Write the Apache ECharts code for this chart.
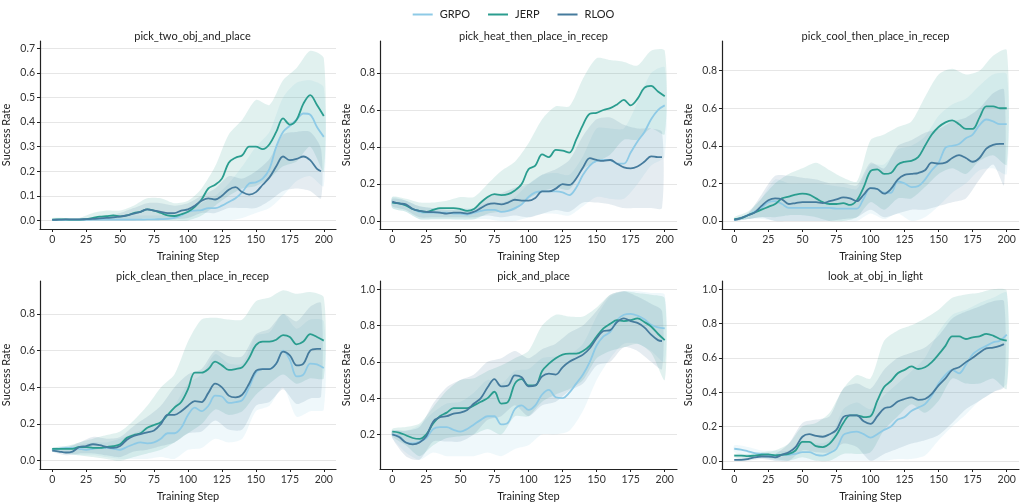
<!DOCTYPE html>
<html>
<head>
<meta charset="utf-8">
<script src="https://cdn.jsdelivr.net/npm/echarts@6/dist/echarts.min.js"></script>
<style>
  html, body { margin: 0; padding: 0; background: #fff; }
  #chart { width: 1027px; height: 504px; }
</style>
</head>
<body>
<div id="chart"></div>
<script>
// x positions of the smoothed curves (RLOO stops at 198)
var steps = [0,5,10,15,20,25,30,35,40,45,50,55,60,65,70,75,80,85,90,95,100,105,110,115,120,125,130,135,140,145,150,155,160,165,170,175,180,185,190,195,200];
var stepsR = [0,5,10,15,20,25,30,35,40,45,50,55,60,65,70,75,80,85,90,95,100,105,110,115,120,125,130,135,140,145,150,155,160,165,170,175,180,185,190,195,198];
var bandSteps = [0,10,20,30,40,50,60,70,80,90,100,110,120,130,140,150,160,170,180,190,200];
var bandStepsR = [0,10,20,30,40,50,60,70,80,90,100,110,120,130,140,150,160,170,180,190,198];
var xTicks = [0,25,50,75,100,125,150,175,200];

var methods = ['GRPO', 'JERP', 'RLOO'];
var titles = ['pick_two_obj_and_place', 'pick_heat_then_place_in_recep', 'pick_cool_then_place_in_recep',
              'pick_clean_then_place_in_recep', 'pick_and_place', 'look_at_obj_in_light'];

// y tick labels per panel
var yTicks1 = [0,0.1,0.2,0.3,0.4,0.5,0.6,0.7];
var yTicks2 = [0,0.2,0.4,0.6,0.8];
var yTicks3 = [0,0.2,0.4,0.6,0.8];
var yTicks4 = [0,0.2,0.4,0.6,0.8];
var yTicks5 = [0.2,0.4,0.6,0.8,1.0];
var yTicks6 = [0,0.2,0.4,0.6,0.8,1.0];

// ---- pick_two_obj_and_place
var p1_grpo = [0.002,0.002,0.002,0.002,0.002,0.002,0.003,0.003,0.003,0.003,0.003,0.003,0.003,0.003,0.004,0.004,0.005,0.006,0.01,0.02,0.035,0.04,0.042,0.05,0.05,0.06,0.075,0.09,0.115,0.15,0.155,0.17,0.21,0.3,0.36,0.385,0.41,0.435,0.43,0.38,0.34];
var p1_jerp = [0.003,0.004,0.004,0.003,0.003,0.005,0.01,0.015,0.017,0.02,0.016,0.02,0.03,0.035,0.045,0.04,0.03,0.02,0.018,0.025,0.035,0.055,0.085,0.13,0.145,0.17,0.235,0.255,0.265,0.3,0.3,0.29,0.31,0.36,0.415,0.39,0.41,0.475,0.51,0.47,0.425];
var p1_rloo = [0.002,0.003,0.004,0.004,0.004,0.005,0.006,0.008,0.01,0.012,0.015,0.02,0.028,0.035,0.045,0.04,0.035,0.03,0.03,0.04,0.045,0.06,0.08,0.09,0.085,0.1,0.125,0.135,0.115,0.105,0.115,0.145,0.175,0.22,0.26,0.245,0.25,0.26,0.245,0.21,0.2];
var p1_grpo_lo = [0,0,0,0,0,0,0,0,0,0,0,0,0,0,0.01,0.03,0.05,0.1,0.16,0.18,0.14];
var p1_grpo_hi = [0.005,0.005,0.005,0.01,0.01,0.015,0.02,0.02,0.02,0.02,0.04,0.07,0.1,0.15,0.22,0.3,0.36,0.5,0.56,0.57,0.54];
var p1_jerp_lo = [0,0,0,0,0,0,0,0,0,0,0,0.02,0.06,0.1,0.13,0.14,0.17,0.22,0.24,0.3,0.2];
var p1_jerp_hi = [0.01,0.01,0.01,0.03,0.04,0.04,0.06,0.09,0.09,0.07,0.08,0.13,0.22,0.35,0.41,0.49,0.47,0.57,0.62,0.69,0.66];
var p1_rloo_lo = [0,0,0,0,0,0,0,0.01,0.005,0.005,0.01,0.03,0.03,0.05,0.05,0.05,0.08,0.12,0.13,0.12,0.09];
var p1_rloo_hi = [0.005,0.005,0.005,0.01,0.02,0.03,0.05,0.07,0.07,0.06,0.07,0.1,0.13,0.18,0.17,0.2,0.25,0.35,0.36,0.36,0.29];

// ---- pick_heat_then_place_in_recep
var p2_grpo = [0.1,0.095,0.085,0.065,0.05,0.045,0.045,0.045,0.045,0.04,0.04,0.035,0.045,0.055,0.06,0.06,0.05,0.055,0.07,0.09,0.13,0.155,0.16,0.16,0.16,0.155,0.14,0.18,0.25,0.3,0.325,0.33,0.33,0.31,0.31,0.37,0.43,0.48,0.55,0.6,0.625];
var p2_jerp = [0.1,0.095,0.085,0.065,0.055,0.05,0.06,0.07,0.07,0.07,0.065,0.055,0.065,0.1,0.13,0.145,0.14,0.145,0.165,0.2,0.28,0.3,0.36,0.345,0.385,0.38,0.37,0.44,0.52,0.58,0.585,0.6,0.61,0.63,0.655,0.625,0.66,0.72,0.73,0.7,0.675];
var p2_rloo = [0.105,0.095,0.09,0.065,0.055,0.05,0.048,0.045,0.04,0.045,0.045,0.04,0.05,0.07,0.09,0.095,0.09,0.1,0.115,0.11,0.11,0.125,0.16,0.16,0.175,0.2,0.195,0.23,0.29,0.34,0.33,0.325,0.33,0.31,0.29,0.285,0.295,0.32,0.35,0.345,0.345];
var p2_grpo_lo = [0.07,0.05,0.01,0.01,0.01,0.005,0.01,0.01,0,0,0.02,0.04,0.04,0.03,0.08,0.13,0.12,0.12,0.2,0.3,0.35];
var p2_grpo_hi = [0.13,0.11,0.08,0.07,0.07,0.07,0.07,0.1,0.1,0.13,0.2,0.25,0.26,0.25,0.35,0.5,0.5,0.5,0.64,0.8,0.83];
var p2_jerp_lo = [0.07,0.05,0.01,0.01,0.01,0.01,0.01,0.04,0.05,0.06,0.12,0.16,0.18,0.17,0.28,0.32,0.36,0.44,0.44,0.5,0.47];
var p2_jerp_hi = [0.13,0.12,0.1,0.1,0.11,0.13,0.13,0.2,0.27,0.32,0.42,0.55,0.62,0.62,0.77,0.88,0.87,0.86,0.84,0.92,0.92];
var p2_rloo_lo = [0.08,0.06,0.02,0.02,0.02,0.02,0.02,0.03,0.02,0.03,0.02,0.04,0.06,0.05,0.1,0.1,0.09,0.07,0.07,0.07,0.07];
var p2_rloo_hi = [0.12,0.11,0.08,0.07,0.06,0.06,0.07,0.13,0.15,0.18,0.2,0.25,0.28,0.33,0.46,0.55,0.56,0.52,0.5,0.5,0.48];

// ---- pick_cool_then_place_in_recep
var p3_grpo = [0.005,0.015,0.03,0.05,0.07,0.1,0.105,0.09,0.07,0.07,0.07,0.07,0.07,0.07,0.07,0.065,0.065,0.065,0.065,0.12,0.175,0.17,0.15,0.15,0.21,0.2,0.18,0.185,0.22,0.27,0.31,0.39,0.4,0.41,0.44,0.46,0.51,0.54,0.53,0.515,0.515];
var p3_jerp = [0.01,0.015,0.03,0.045,0.06,0.075,0.09,0.12,0.13,0.14,0.145,0.14,0.12,0.1,0.09,0.09,0.095,0.085,0.11,0.18,0.265,0.275,0.25,0.255,0.3,0.315,0.32,0.34,0.4,0.46,0.5,0.525,0.535,0.515,0.49,0.49,0.55,0.61,0.61,0.6,0.6];
var p3_rloo = [0.005,0.015,0.03,0.045,0.08,0.11,0.12,0.115,0.09,0.095,0.1,0.1,0.1,0.095,0.105,0.115,0.125,0.12,0.105,0.14,0.175,0.17,0.145,0.17,0.22,0.245,0.25,0.255,0.27,0.31,0.305,0.31,0.335,0.35,0.335,0.315,0.335,0.385,0.405,0.41,0.41];
var p3_grpo_lo = [0,0.01,0.01,0,0,0,0,0,0,0,0.04,0.01,0.04,0,0.02,0.08,0.15,0.2,0.27,0.28,0.25];
var p3_grpo_hi = [0.01,0.04,0.12,0.22,0.2,0.2,0.2,0.19,0.18,0.17,0.3,0.3,0.38,0.4,0.45,0.56,0.62,0.65,0.72,0.78,0.78];
var p3_jerp_lo = [0,0.01,0.02,0.02,0.03,0.03,0.02,0,0,0.02,0.1,0.06,0.12,0.12,0.18,0.25,0.28,0.25,0.32,0.35,0.3];
var p3_jerp_hi = [0.02,0.05,0.12,0.2,0.25,0.28,0.31,0.27,0.23,0.21,0.43,0.46,0.5,0.53,0.66,0.78,0.81,0.78,0.8,0.88,0.91];
var p3_rloo_lo = [0,0.01,0.02,0,0,0,0,0,0.01,0.02,0.06,0.02,0.04,0.06,0.06,0.08,0.1,0.12,0.22,0.3,0.19];
var p3_rloo_hi = [0.01,0.04,0.14,0.24,0.24,0.23,0.22,0.2,0.2,0.19,0.31,0.28,0.4,0.43,0.47,0.49,0.53,0.55,0.6,0.68,0.7];

// ---- pick_clean_then_place_in_recep
var p4_grpo = [0.06,0.065,0.07,0.07,0.065,0.06,0.065,0.07,0.07,0.065,0.06,0.075,0.09,0.1,0.095,0.1,0.12,0.15,0.15,0.18,0.25,0.29,0.27,0.3,0.355,0.35,0.315,0.32,0.33,0.4,0.48,0.5,0.5,0.53,0.6,0.55,0.46,0.47,0.53,0.525,0.505];
var p4_jerp = [0.065,0.065,0.065,0.065,0.075,0.075,0.07,0.07,0.075,0.08,0.09,0.125,0.14,0.15,0.18,0.195,0.21,0.25,0.29,0.32,0.39,0.48,0.48,0.5,0.54,0.52,0.495,0.5,0.51,0.56,0.63,0.65,0.65,0.66,0.685,0.675,0.635,0.65,0.69,0.675,0.655];
var p4_rloo = [0.055,0.05,0.045,0.05,0.075,0.08,0.09,0.085,0.075,0.07,0.08,0.115,0.135,0.145,0.155,0.165,0.2,0.25,0.25,0.27,0.3,0.325,0.32,0.37,0.42,0.4,0.355,0.345,0.36,0.42,0.49,0.5,0.5,0.53,0.595,0.575,0.52,0.53,0.6,0.61,0.61];
var p4_grpo_lo = [0.05,0.04,0.03,0.03,0.02,0.01,0.01,0.01,0.02,0.01,0.06,0.07,0.12,0.1,0.12,0.27,0.3,0.4,0.24,0.27,0.28];
var p4_grpo_hi = [0.07,0.08,0.09,0.1,0.1,0.12,0.15,0.18,0.22,0.3,0.42,0.47,0.58,0.53,0.53,0.68,0.7,0.8,0.72,0.77,0.76];
var p4_jerp_lo = [0.06,0.04,0.03,0.02,0.01,0,0.02,0.04,0.06,0.1,0.15,0.2,0.28,0.25,0.27,0.36,0.42,0.47,0.42,0.45,0.45];
var p4_jerp_hi = [0.07,0.08,0.1,0.12,0.14,0.16,0.22,0.3,0.4,0.47,0.65,0.77,0.78,0.77,0.77,0.87,0.89,0.93,0.91,0.92,0.89];
var p4_rloo_lo = [0.05,0.03,0.04,0.04,0.03,0.02,0.05,0.06,0.08,0.1,0.15,0.16,0.22,0.17,0.17,0.3,0.32,0.39,0.31,0.34,0.35];
var p4_rloo_hi = [0.07,0.07,0.1,0.13,0.12,0.13,0.19,0.24,0.3,0.4,0.47,0.5,0.6,0.57,0.57,0.69,0.72,0.8,0.76,0.84,0.86];

// ---- pick_and_place
var p5_grpo = [0.2,0.19,0.155,0.15,0.16,0.18,0.23,0.24,0.24,0.225,0.215,0.23,0.255,0.28,0.3,0.3,0.255,0.265,0.34,0.36,0.335,0.36,0.42,0.445,0.405,0.4,0.43,0.48,0.53,0.6,0.69,0.74,0.765,0.83,0.86,0.865,0.855,0.835,0.805,0.79,0.785];
var p5_jerp = [0.215,0.21,0.195,0.18,0.175,0.2,0.26,0.3,0.32,0.345,0.345,0.345,0.36,0.38,0.4,0.435,0.37,0.38,0.48,0.505,0.47,0.47,0.55,0.59,0.62,0.64,0.645,0.645,0.66,0.69,0.74,0.785,0.81,0.83,0.825,0.83,0.84,0.82,0.795,0.755,0.72];
var p5_rloo = [0.2,0.185,0.155,0.145,0.155,0.19,0.27,0.295,0.3,0.315,0.32,0.335,0.37,0.4,0.46,0.505,0.465,0.47,0.525,0.515,0.465,0.47,0.52,0.535,0.53,0.57,0.6,0.62,0.64,0.675,0.73,0.77,0.775,0.82,0.84,0.825,0.815,0.79,0.75,0.72,0.715];
var p5_grpo_lo = [0.18,0.1,0.06,0.1,0.08,0.08,0.08,0.1,0.08,0.12,0.14,0.2,0.2,0.22,0.33,0.5,0.62,0.7,0.7,0.66,0.6];
var p5_grpo_hi = [0.22,0.22,0.25,0.32,0.37,0.38,0.43,0.5,0.48,0.55,0.56,0.62,0.63,0.64,0.7,0.85,0.96,0.99,0.99,0.98,0.97];
var p5_jerp_lo = [0.19,0.14,0.08,0.14,0.18,0.19,0.2,0.23,0.2,0.3,0.3,0.38,0.42,0.45,0.5,0.62,0.66,0.68,0.7,0.65,0.5];
var p5_jerp_hi = [0.23,0.24,0.26,0.35,0.44,0.5,0.51,0.55,0.58,0.62,0.66,0.8,0.86,0.85,0.85,0.9,0.97,0.99,0.98,0.97,0.95];
var p5_rloo_lo = [0.18,0.08,0.06,0.16,0.16,0.16,0.2,0.28,0.3,0.36,0.3,0.36,0.38,0.44,0.48,0.58,0.6,0.68,0.66,0.6,0.56];
var p5_rloo_hi = [0.22,0.22,0.24,0.37,0.46,0.5,0.53,0.6,0.62,0.66,0.62,0.67,0.7,0.76,0.8,0.88,0.97,0.99,0.96,0.92,0.88];

// ---- look_at_obj_in_light
var p6_grpo = [0.07,0.065,0.055,0.045,0.04,0.035,0.03,0.035,0.035,0.04,0.05,0.05,0.035,0.03,0.045,0.07,0.15,0.165,0.17,0.155,0.135,0.155,0.18,0.2,0.24,0.255,0.29,0.31,0.33,0.38,0.45,0.5,0.53,0.51,0.56,0.62,0.65,0.67,0.69,0.7,0.735];
var p6_jerp = [0.03,0.03,0.027,0.03,0.035,0.037,0.032,0.035,0.04,0.06,0.11,0.11,0.085,0.08,0.1,0.15,0.22,0.265,0.265,0.255,0.26,0.35,0.43,0.465,0.51,0.53,0.55,0.535,0.545,0.575,0.62,0.67,0.725,0.725,0.71,0.72,0.725,0.74,0.73,0.71,0.7];
var p6_rloo = [0.005,0.005,0.01,0.02,0.025,0.025,0.02,0.035,0.05,0.08,0.14,0.155,0.145,0.14,0.155,0.18,0.255,0.265,0.265,0.23,0.215,0.26,0.305,0.315,0.345,0.36,0.37,0.355,0.36,0.39,0.44,0.48,0.53,0.545,0.575,0.6,0.63,0.655,0.66,0.67,0.68];
var p6_grpo_lo = [0.05,0.03,0.02,0,0,0,0,0,0,0,0,0,0.01,0.01,0.03,0.12,0.2,0.27,0.35,0.4,0.45];
var p6_grpo_hi = [0.09,0.08,0.06,0.06,0.06,0.12,0.1,0.12,0.3,0.34,0.3,0.38,0.45,0.52,0.6,0.75,0.85,0.88,0.92,0.95,0.98];
var p6_jerp_lo = [0.02,0.01,0.02,0.01,0,0.02,0,0,0.04,0.04,0.05,0.18,0.26,0.33,0.28,0.35,0.48,0.45,0.45,0.48,0.42];
var p6_jerp_hi = [0.04,0.04,0.05,0.06,0.1,0.2,0.22,0.28,0.42,0.5,0.48,0.7,0.76,0.79,0.83,0.88,0.95,0.97,0.98,1.0,0.99];
var p6_rloo_lo = [0,0,0.01,0,0,0.06,0.05,0.05,0.1,0.08,0,0.04,0.07,0.1,0.12,0.15,0.22,0.3,0.35,0.4,0.43];
var p6_rloo_hi = [0.01,0.02,0.04,0.04,0.1,0.22,0.24,0.26,0.42,0.45,0.42,0.53,0.6,0.63,0.66,0.73,0.83,0.87,0.9,0.93,0.93];

var colors = { GRPO: '#8ecae6', JERP: '#2a9d8f', RLOO: '#457b9d' };
var FONT = 'Lato';

var panels = [
  { g: [p1_grpo, p1_jerp, p1_rloo], lo: [p1_grpo_lo, p1_jerp_lo, p1_rloo_lo], hi: [p1_grpo_hi, p1_jerp_hi, p1_rloo_hi], yMin: -0.035, yMax: 0.73, ticks: yTicks1 },
  { g: [p2_grpo, p2_jerp, p2_rloo], lo: [p2_grpo_lo, p2_jerp_lo, p2_rloo_lo], hi: [p2_grpo_hi, p2_jerp_hi, p2_rloo_hi], yMin: -0.043, yMax: 0.973, ticks: yTicks2 },
  { g: [p3_grpo, p3_jerp, p3_rloo], lo: [p3_grpo_lo, p3_jerp_lo, p3_rloo_lo], hi: [p3_grpo_hi, p3_jerp_hi, p3_rloo_hi], yMin: -0.043, yMax: 0.958, ticks: yTicks3 },
  { g: [p4_grpo, p4_jerp, p4_rloo], lo: [p4_grpo_lo, p4_jerp_lo, p4_rloo_lo], hi: [p4_grpo_hi, p4_jerp_hi, p4_rloo_hi], yMin: -0.045, yMax: 0.98, ticks: yTicks4 },
  { g: [p5_grpo, p5_jerp, p5_rloo], lo: [p5_grpo_lo, p5_jerp_lo, p5_rloo_lo], hi: [p5_grpo_hi, p5_jerp_hi, p5_rloo_hi], yMin: 0.009, yMax: 1.046, ticks: yTicks5 },
  { g: [p6_grpo, p6_jerp, p6_rloo], lo: [p6_grpo_lo, p6_jerp_lo, p6_rloo_lo], hi: [p6_grpo_hi, p6_jerp_hi, p6_rloo_hi], yMin: -0.048, yMax: 1.048, ticks: yTicks6 }
];

var colLeft = [39, 380, 722];
var rowTop = [41, 281];
var plotW = 297, plotH = 188;

var grids = [], xAxes = [], yAxes = [], titleList = [], series = [];

function bandSeries(gi, name, xs, lo, hi) {
  return {
    type: 'custom',
    name: name + ' band',
    xAxisIndex: gi, yAxisIndex: gi,
    silent: true,
    z: 1,
    data: xs.map(function (x, i) { return [x, lo[i], hi[i]]; }),
    encode: { x: 0, y: [1, 2] },
    renderItem: function (params, api) {
      if (params.dataIndex !== 0) return;
      var pts = [];
      for (var i = 0; i < xs.length; i++) pts.push(api.coord([xs[i], hi[i]]));
      for (var j = xs.length - 1; j >= 0; j--) pts.push(api.coord([xs[j], lo[j]]));
      return {
        type: 'polygon',
        shape: { points: pts, smooth: 0.25 },
        style: { fill: colors[name], opacity: 0.14 }
      };
    }
  };
}

panels.forEach(function (p, i) {
  var r = Math.floor(i / 3), c = i % 3;
  grids.push({ left: colLeft[c], top: rowTop[r], width: plotW, height: plotH });
  titleList.push({
    text: titles[i],
    left: colLeft[c] + plotW / 2,
    top: rowTop[r] - 15,
    textAlign: 'center',
    textStyle: { fontFamily: FONT, fontSize: 11, fontWeight: 'normal', color: '#222' }
  });
  xAxes.push({
    type: 'value', gridIndex: i, min: -9, max: 209,
    name: 'Training Step', nameLocation: 'middle', nameGap: 22,
    nameTextStyle: { fontFamily: FONT, fontSize: 11, color: '#222' },
    axisLine: { show: true, onZero: false, lineStyle: { color: '#222', width: 1.2 } },
    axisTick: { show: true, length: 3, customValues: xTicks, lineStyle: { color: '#222' } },
    axisLabel: { customValues: xTicks, fontFamily: FONT, fontSize: 10.5, color: '#333', margin: 5 },
    splitLine: { show: false }
  });
  yAxes.push({
    type: 'value', gridIndex: i, min: p.yMin, max: p.yMax,
    name: 'Success Rate', nameLocation: 'middle', nameGap: 28, nameRotate: 90,
    nameTextStyle: { fontFamily: FONT, fontSize: 11, color: '#222' },
    axisLine: { show: true, onZero: false, lineStyle: { color: '#222', width: 1.2 } },
    axisTick: { show: true, length: 3, customValues: p.ticks, lineStyle: { color: '#222' } },
    axisLabel: {
      customValues: p.ticks, fontFamily: FONT, fontSize: 10.5, color: '#333', margin: 5,
      formatter: function (v) { return Number(v).toFixed(1); }
    },
    splitLine: { show: true, lineStyle: { color: '#e6e6e6', width: 1 } }
  });

  methods.forEach(function (m, k) {
    var isR = m === 'RLOO';
    series.push(bandSeries(i, m, isR ? bandStepsR : bandSteps, p.lo[k], p.hi[k]));
  });
  methods.forEach(function (m, k) {
    var xs = m === 'RLOO' ? stepsR : steps;
    series.push({
      type: 'line', name: m, xAxisIndex: i, yAxisIndex: i,
      data: xs.map(function (x, j) { return [x, p.g[k][j]]; }),
      symbol: 'none', smooth: 0.35, z: 3,
      lineStyle: { color: colors[m], width: 1.8 },
      itemStyle: { color: colors[m] }
    });
  });
});

var chart = echarts.init(document.getElementById('chart'), null, { renderer: 'canvas' });
chart.setOption({
  animation: false,
  backgroundColor: '#fff',
  title: titleList,
  legend: {
    data: methods, top: 4, left: 'center',
    icon: 'rect', itemWidth: 20, itemHeight: 2, itemGap: 18,
    textStyle: { fontFamily: FONT, fontSize: 11, color: '#222', padding: [0, 0, 0, 2] }
  },
  grid: grids,
  xAxis: xAxes,
  yAxis: yAxes,
  series: series
});
</script>
</body>
</html>
